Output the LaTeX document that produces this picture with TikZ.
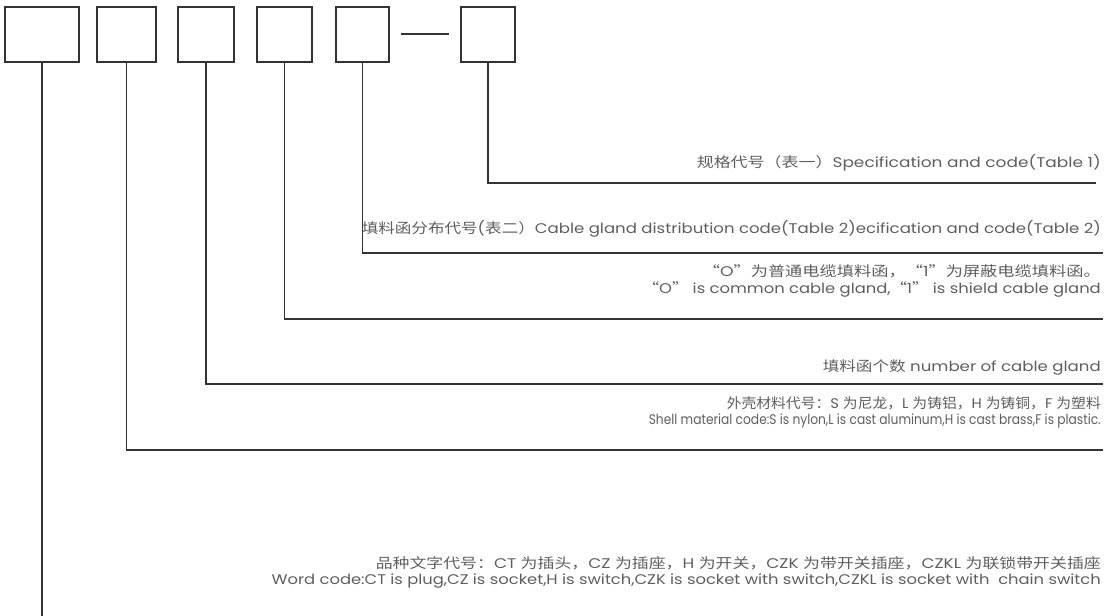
\documentclass[tikz,border=0pt]{standalone}
\usepackage{fontspec}
\usepackage{graphicx}
\setmainfont{Poppins}
\newfontfamily\cjk{Noto Sans CJK SC}
\definecolor{txtc}{HTML}{5E5E5E}
\definecolor{lnc}{HTML}{333333}
\newcommand{\fitw}[2]{\resizebox{#1pt}{\height}{#2}}
\tikzset{
  codebox/.style={draw=lnc, line width=1.3pt, inner sep=0pt, minimum height=55pt},
  conn/.style={draw=lnc, line width=1.1pt},
  lbl/.style={anchor=east, inner sep=0pt, text=txtc, font=\fontsize{14}{16}\selectfont},
}
\begin{document}
\begin{tikzpicture}[x=1pt,y=-1pt]
\useasboundingbox (0,0) rectangle (1109,616);
% code boxes
\node[codebox, minimum width=74pt] (b1) at (42,34.5) {};
\node[codebox, minimum width=59pt] (b2) at (126.5,34.5) {};
\node[codebox, minimum width=56pt] (b3) at (206,34.5) {};
\node[codebox, minimum width=55pt] (b4) at (284.5,34.5) {};
\node[codebox, minimum width=53pt] (b5) at (362.5,34.5) {};
\node[codebox, minimum width=54pt] (b6) at (488,34.5) {};
\draw[conn] ([xshift=11pt,yshift=0.5pt]b5.east) -- ([xshift=-11pt,yshift=0.5pt]b6.west);
% connector ends
\coordinate (e6) at (1096,183);
\coordinate (e5) at (1103,253);
\coordinate (e4) at (1103,319);
\coordinate (e3) at (1103,384);
\coordinate (e2) at (1103,450);
\coordinate (e1) at (42,616);
\draw[conn] (b6.south) |- (e6);
\draw[conn] (b5.south) |- (e5);
\draw[conn] (b4.south) |- (e4);
\draw[conn] (b3.south) |- (e3);
\draw[conn] (b2.south) |- (e2);
\draw[conn] (b1.south) -- (e1);
% labels
\node[lbl] (t1) at (1101,163) {\fitw{404}{{\cjk 规格代号（表一）}Specification and code(Table 1)}};
\node[lbl] (t2) at (1101,229) {\fitw{739}{{\cjk 填料函分布代号}({\cjk 表二）}Cable gland distribution code(Table 2)ecification and code(Table 2)}};
\node[lbl] (t3) at (1101,271) {\fitw{398}{{\cjk “}O{\cjk ”为普通电缆填料函，“}1{\cjk ”为屏蔽电缆填料函。}}};
\node[lbl] (t4) at (1101,289) {\fitw{458}{{\cjk “}O{\cjk ”} is common cable gland,{\cjk “}1{\cjk ”} is shield cable gland}};
\node[lbl] (t5) at (1101,367) {\fitw{278}{{\cjk 填料函个数} number of cable gland}};
\node[lbl] (t6) at (1101,403) {\fitw{374}{{\cjk 外壳材料代号：}S {\cjk 为尼龙，}L {\cjk 为铸铝，}H {\cjk 为铸铜，}F {\cjk 为塑料}}};
\node[lbl] (t7) at (1101,421) {\fitw{452}{Shell material code:S is nylon,L is cast aluminum,H is cast brass,F is plastic.}};
\node[lbl] (t8) at (1101,563) {\fitw{725}{{\cjk 品种文字代号：}CT {\cjk 为插头，}CZ {\cjk 为插座，}H {\cjk 为开关，}CZK {\cjk 为带开关插座，}CZKL {\cjk 为联锁带开关插座}}};
\node[lbl] (t9) at (1101,581) {\fitw{829}{Word code:CT is plug,CZ is socket,H is switch,CZK is socket with switch,CZKL is socket with\ \ chain switch}};
\end{tikzpicture}
\end{document}
